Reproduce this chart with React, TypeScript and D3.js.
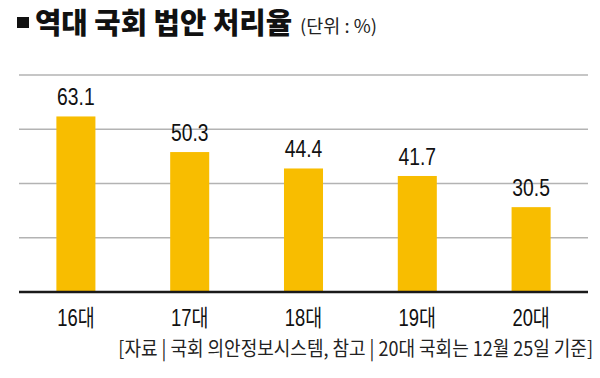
import React from "react";
import * as d3 from "d3";

const categories = ["16대", "17대", "18대", "19대", "20대"];
const values = [63.1, 50.3, 44.4, 41.7, 30.5];
const valueLabels = ["63.1", "50.3", "44.4", "41.7", "30.5"];
const gridSteps = [0, 1, 2, 3, 4];
const yMax = 78;

const titleText = "역대 국회 법안 처리율";
const unitText = "(단위 : %)";
const sourceText = "[자료 | 국회 의안정보시스템, 참고 | 20대 국회는 12월 25일 기준]";

const W = 600;
const H = 378;
const left = 19;
const right = 588;
const baseY = 292;
const topY = 75;
const barColor = "#f8bd00";
const numFont = "'Liberation Sans', 'Noto Sans CJK KR', sans-serif";
const krFont = "'Noto Sans CJK KR', 'Liberation Sans', sans-serif";

export default function App() {
  const x = d3
    .scaleBand<string>()
    .domain(categories)
    .range([left, right])
    .paddingInner(0.657)
    .paddingOuter(0.3285);
  const y = d3.scaleLinear().domain([0, yMax]).range([baseY, topY]);
  const gridVals = gridSteps.map((i) => (yMax * i) / 4).filter((v) => v > 0);

  return (
    <div style={{ position: "absolute", left: 0, top: 0 }}>
      <svg width={W} height={H} style={{ display: "block", background: "#fff" }}>
        {/* title */}
        <rect x={17} y={17} width={12} height={11} fill="#111" />
        <text
          x={35}
          y={34}
          fontFamily={krFont}
          fontWeight={900}
          fontSize={29}
          fill="#111"
          textLength={257}
          lengthAdjust="spacingAndGlyphs"
        >
          {titleText}
        </text>
        <text
          x={300}
          y={33}
          fontFamily={krFont}
          fontSize={18}
          fill="#222"
          textLength={77}
          lengthAdjust="spacingAndGlyphs"
        >
          {unitText}
        </text>

        {/* grid */}
        {gridVals.map((g) => (
          <line
            key={g}
            x1={left}
            x2={right}
            y1={y(g)}
            y2={y(g)}
            stroke="#b3b3b3"
            strokeWidth={1.6}
          />
        ))}

        {/* bars */}
        {values.map((v, i) => (
          <rect
            key={categories[i]}
            x={x(categories[i])}
            y={y(v)}
            width={x.bandwidth()}
            height={baseY - y(v)}
            fill={barColor}
          />
        ))}

        {/* value labels */}
        {values.map((v, i) => (
          <text
            key={"v" + i}
            transform={`translate(${(x(categories[i]) as number) + x.bandwidth() / 2},${y(v) - 11}) scale(0.84,1)`}
            textAnchor="middle"
            fontFamily={numFont}
            fontSize={23}
            fill="#111"
          >
            {valueLabels[i]}
          </text>
        ))}

        {/* baseline */}
        <line x1={left} x2={right} y1={baseY} y2={baseY} stroke="#1a1a1a" strokeWidth={2.5} />

        {/* category labels */}
        {categories.map((c) => (
          <text
            key={"c" + c}
            transform={`translate(${(x(c) as number) + x.bandwidth() / 2},326) scale(0.8,1)`}
            textAnchor="middle"
            fontFamily={numFont}
            fontSize={23}
            fill="#111"
          >
            {c}
          </text>
        ))}

        {/* source */}
        <text
          transform="translate(593,356) scale(0.9,1)"
          textAnchor="end"
          fontFamily={krFont}
          fontSize={20}
          fill="#222"
        >
          {sourceText}
        </text>
      </svg>
    </div>
  );
}
